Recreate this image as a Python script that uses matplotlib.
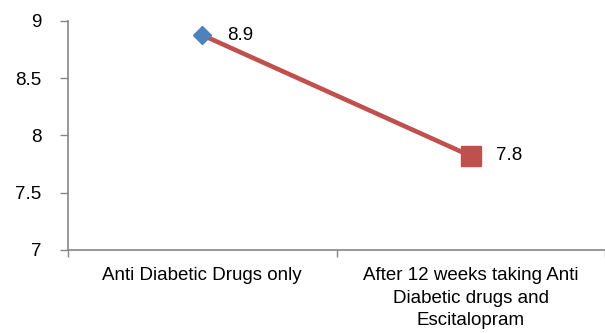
import matplotlib
matplotlib.use("Agg")
import matplotlib.pyplot as plt
import numpy as np

# values
categories = ["Anti Diabetic Drugs only",
              "After 12 weeks taking Anti\nDiabetic drugs and\nEscitalopram"]
values = [8.875, 7.82]
labels = ["8.9", "7.8"]
y_ticks = [7, 7.5, 8, 8.5, 9]

LINE_RED = "#C0504D"
BLUE = "#4F81BD"
AXIS_GREY = "#868686"
FS = 13.5

plt.rcParams["font.family"] = ["Liberation Sans", "DejaVu Sans"]

fig = plt.figure(figsize=(6.05, 3.33), dpi=100)
ax = fig.add_axes([68 / 605, 1 - 250 / 333, (605 - 68) / 605, (250 - 20.7) / 333])

x = np.arange(len(categories))
ax.plot(x, values, color=LINE_RED, linewidth=3.3, solid_capstyle="butt", zorder=2)
ax.plot(x[0], values[0], marker="D", markersize=9, color=BLUE, zorder=3)
ax.plot(x[1], values[1], marker="s", markersize=14, color=LINE_RED, zorder=3)

for xi, v, lab in zip(x, values, labels):
    ax.annotate(lab, (xi, v), xytext=(18, 0), textcoords="offset points",
                ha="left", va="center", fontsize=FS)

ax.set_xlim(-0.5, len(categories) - 0.5)
ax.set_ylim(7, 9)
ax.set_yticks(y_ticks)
ax.set_yticklabels([f"{t:g}" for t in y_ticks])

# category boundaries as major ticks, labels on minor ticks at centers
ax.set_xticks(np.arange(len(categories) + 1) - 0.5)
ax.set_xticklabels([])
ax.set_xticks(x, minor=True)
ax.set_xticklabels(categories, minor=True, linespacing=1.45)
ax.tick_params(axis="x", which="minor", length=0, pad=12, labelsize=FS)
ax.tick_params(axis="x", which="major", length=5, width=1, color=AXIS_GREY)
ax.tick_params(axis="y", length=6, width=1, color=AXIS_GREY, pad=13, labelsize=FS)

for side in ["top", "right"]:
    ax.spines[side].set_visible(False)
for side in ["left", "bottom"]:
    ax.spines[side].set_color(AXIS_GREY)
    ax.spines[side].set_linewidth(1.2)

fig.savefig("out.png", dpi=100)
